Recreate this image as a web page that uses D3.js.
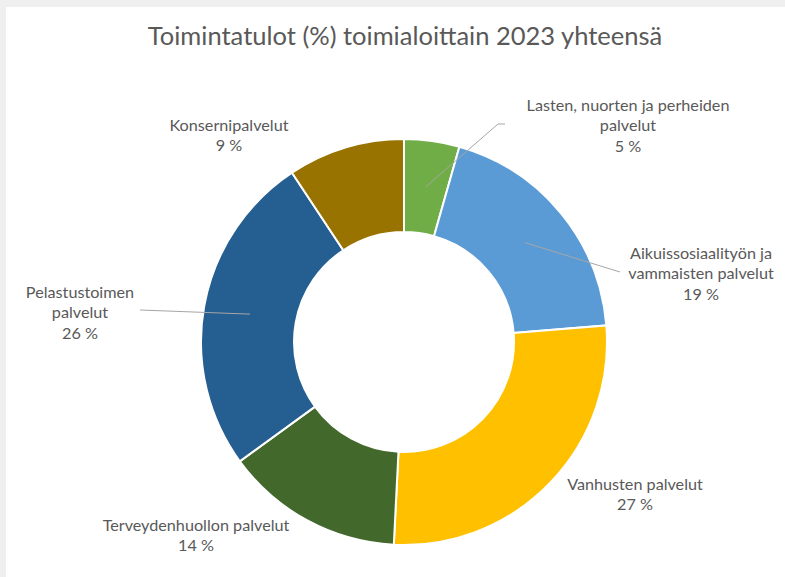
<!DOCTYPE html>
<html>
<head>
<meta charset="utf-8">
<script src="https://cdn.jsdelivr.net/npm/d3@7"></script>
<style>
  body { margin: 0; background: #fff; }
  svg { display: block; font-family: Lato, "Open Sans", sans-serif; }
</style>
</head>
<body>
<div id="chart"></div>
<script>
// data
var categories = [
  "Lasten, nuorten ja perheiden palvelut",
  "Aikuissosiaalityön ja vammaisten palvelut",
  "Vanhusten palvelut",
  "Terveydenhuollon palvelut",
  "Pelastustoimen palvelut",
  "Konsernipalvelut"
];
var values = [4.4, 19.3, 27.1, 14.2, 25.7, 9.3];
var valueLabels = ["5 %", "19 %", "27 %", "14 %", "26 %", "9 %"];
var labelLines = [
  ["Lasten, nuorten ja perheiden", "palvelut"],
  ["Aikuissosiaalityön ja", "vammaisten palvelut"],
  ["Vanhusten palvelut"],
  ["Terveydenhuollon palvelut"],
  ["Pelastustoimen", "palvelut"],
  ["Konsernipalvelut"]
];
var colors = ["#70AD47", "#5B9BD5", "#FFC000", "#43682B", "#255E91", "#997300"];

// label layout (centre of first line) and leader end points, like manually moved Excel labels
var labelPos = [[628, 104], [701, 252], [635, 483], [196, 524], [80, 291], [229, 124]];
var leaderEnd = [[505, 124], [620, 272], null, null, [140, 310], null];

var W = 785, H = 577;
var cx = 404, cy = 342, outerR = 203, innerR = 110;
var lineH = 20.5;

var svg = d3.select("#chart").append("svg")
  .attr("width", W)
  .attr("height", H);

// window frame edges
svg.append("rect").attr("x", 0).attr("y", 0).attr("width", W).attr("height", 7).attr("fill", "#efefef");
svg.append("rect").attr("x", 0).attr("y", 0).attr("width", 6).attr("height", H).attr("fill", "#efefef");

svg.append("text")
  .attr("x", 405)
  .attr("y", 35)
  .attr("text-anchor", "middle")
  .attr("dominant-baseline", "central")
  .attr("font-size", 25.5)
  .attr("fill", "#595959")
  .text("Toimintatulot (%) toimialoittain 2023 yhteensä");

var data = categories.map(function (c, i) {
  return { name: c, value: values[i], i: i };
});

var pie = d3.pie().sort(null).value(function (d) { return d.value; });
var arc = d3.arc().innerRadius(innerR).outerRadius(outerR);
var arcs = pie(data);

var g = svg.append("g").attr("transform", "translate(" + cx + "," + cy + ")");

g.selectAll("path.slice")
  .data(arcs)
  .enter()
  .append("path")
  .attr("class", "slice")
  .attr("d", arc)
  .attr("fill", function (d) { return colors[d.data.i]; })
  .attr("stroke", "#fff")
  .attr("stroke-width", 2);

// leader lines from slice centroid
g.selectAll("polyline.leader")
  .data(arcs.filter(function (d) { return leaderEnd[d.data.i]; }))
  .enter()
  .append("polyline")
  .attr("class", "leader")
  .attr("fill", "none")
  .attr("stroke", "#a6a6a6")
  .attr("stroke-width", 1)
  .attr("points", function (d) {
    var c = arc.centroid(d);
    var e = leaderEnd[d.data.i];
    var ex = e[0] - cx, ey = e[1] - cy;
    var pts = [c];
    if (d.data.i === 0) pts.push([ex - 7, ey]);
    pts.push([ex, ey]);
    return pts.map(function (p) { return p.join(","); }).join(" ");
  });

// labels
var labels = svg.selectAll("text.label")
  .data(data)
  .enter()
  .append("text")
  .attr("class", "label")
  .attr("text-anchor", "middle")
  .attr("font-size", 16.2)
  .attr("fill", "#595959");

labels.each(function (d) {
  var t = d3.select(this);
  var p = labelPos[d.i];
  var lines = labelLines[d.i].concat([valueLabels[d.i]]);
  lines.forEach(function (s, k) {
    t.append("tspan")
      .attr("x", p[0])
      .attr("y", p[1] + k * lineH)
      .attr("dominant-baseline", "central")
      .text(s);
  });
});
</script>
</body>
</html>
